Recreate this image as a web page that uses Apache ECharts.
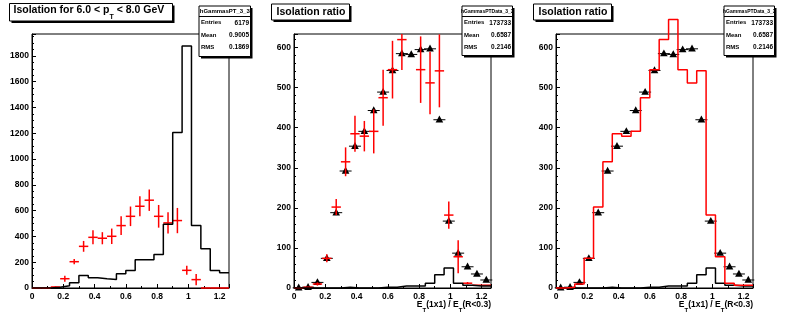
<!DOCTYPE html>
<html><head><meta charset="utf-8">
<script src="https://cdn.jsdelivr.net/npm/echarts@6/dist/echarts.min.js"></script>
<style>html,body{margin:0;padding:0;background:#fff}#c{width:787px;height:323px}</style>
</head><body><div id="c"></div>
<script>
// ---------------- data ----------------
const binCenters = [0.03,0.09,0.15,0.21,0.27,0.33,0.39,0.45,0.51,0.57,0.63,0.69,0.75,0.81,0.87,0.93,0.99,1.05,1.11,1.17,1.23];
const binWidth = 0.06;
const xMax = 1.26;
const xTickLabels = [0,0.2,0.4,0.6,0.8,1,1.2];
const pad1YTickLabels = [0,200,400,600,800,1000,1200,1400,1600,1800];
const ratioYTickLabels = [0,100,200,300,400,500,600];
const pad1YMax = 1970;
const ratioYMax = 634;

// pad 1: black histogram and red points with errors
const pad1Hist   = [0,0,5,18,41,96,80,72,65,111,135,220,220,259,494,1206,1876,484,305,135,119];
const pad1Points = [0,0,8,72,204,323,393,386,401,484,556,634,681,556,505,523,137,65,0,0,0];
const pad1Errors = [0,0,4,23,20,42,54,47,60,72,76,78,83,88,82,98,35,43,0,0,0];

// pads 2 & 3
const ratioMarkers = [0.5,2,14,74,188,292,354,391,443,489,543,585,583,595,597,420,167,87,53,35,20];
const ratioPoints  = [0,2,10,74,202,315,385,379,391,475,545,620,670,545,512,542,182,78,12,7,7];
const ratioErrors  = [0,0,4,10,20,36,45,38,55,70,72,76,80,83,78,91,34,41,3,0,0];
const smallHist    = [0,0,0,0,0,2,0,0,0,2,2,5,5,5,12,33,50,12,7,5,5];

const titles = ['Isolation for 6.0 < p', 'Isolation ratio'];
const statsTitles = ['hGammasPT_3_3', 'hGammasPTData_3_3'];
const statsLabels = ['Entries', 'Mean', 'RMS'];
const stats1 = ['6179', '0.9005', '0.1869'];
const stats2 = ['173733', '0.6587', '0.2146'];

// ---------------- helpers ----------------
const FONT = '"Liberation Sans", Arial, Helvetica, sans-serif';
function stepData(vals) {
  const d = vals.map((v, i) => [binCenters[i] - binWidth / 2, v]);
  d.push([xMax, vals[vals.length - 1]]);
  return d;
}
function crossRender(params, api) {
  const x = api.value(0), y = api.value(1), e = api.value(2);
  const cs = params.coordSys;
  const top = cs.y, bottom = cs.y + cs.height;
  const p = api.coord([x, y]);
  if (p[1] < top - 0.5) return null;
  const l = api.coord([x - binWidth / 2, y]), r = api.coord([x + binWidth / 2, y]);
  const hi = api.coord([x, y + e]), lo = api.coord([x, y - e]);
  const cl = v => Math.max(top, Math.min(bottom, v));
  const st = { stroke: '#ff0000', lineWidth: 1.5 };
  const ch = [{ type: 'line', shape: { x1: l[0], y1: p[1], x2: r[0], y2: p[1] }, style: st }];
  if (e > 0) ch.push({ type: 'line', shape: { x1: p[0], y1: cl(hi[1]), x2: p[0], y2: cl(lo[1]) }, style: st });
  return { type: 'group', children: ch };
}
function triRender(params, api) {
  const p = api.coord([api.value(0), api.value(1)]);
  return { type: 'group', children: [
    { type: 'line', shape: { x1: p[0] - 6, y1: p[1], x2: p[0] + 6, y2: p[1] }, style: { stroke: '#000', lineWidth: 1 } },
    { type: 'polygon', shape: { points: [[p[0], p[1] - 4.2], [p[0] - 3.8, p[1] + 2.7], [p[0] + 3.8, p[1] + 2.7]] }, style: { fill: '#000' } }
  ]};
}
function xAxis(i) {
  return {
    type: 'value', gridIndex: i, min: 0, max: xMax, interval: 0.2,
    axisLine: { show: true, lineStyle: { color: '#000', width: 1 } },
    axisTick: { show: true, inside: true, length: 4, lineStyle: { color: '#000' } },
    minorTick: { show: true, splitNumber: 2, length: 2, lineStyle: { color: '#000' } },
    splitLine: { show: false },
    axisLabel: { color: '#000', fontFamily: FONT, fontWeight: 'bold', fontSize: 8.5, margin: 4,
      formatter: v => xTickLabels.some(t => Math.abs(t - v) < 1e-6) ? String(+v.toFixed(1)) : '' }
  };
}
function yAxis(i, max, interval, minorSplit, labels) {
  return {
    type: 'value', gridIndex: i, min: 0, max: max, interval: interval,
    axisLine: { show: true, lineStyle: { color: '#000', width: 1 } },
    axisTick: { show: true, inside: true, length: 4, lineStyle: { color: '#000' } },
    minorTick: { show: true, splitNumber: minorSplit, length: 2, lineStyle: { color: '#000' } },
    splitLine: { show: false },
    axisLabel: { color: '#000', fontFamily: FONT, fontWeight: 'bold', fontSize: 8.5, margin: 3,
      formatter: v => labels.indexOf(Math.round(v)) >= 0 && Math.abs(v - Math.round(v)) < 1e-6 ? String(Math.round(v)) : '' }
  };
}
function lineSeries(vals, xi, color, clip) {
  return { type: 'line', xAxisIndex: xi, yAxisIndex: xi, step: 'end', data: stepData(vals),
    symbol: 'none', clip: clip, silent: true, animation: false,
    lineStyle: { color: color, width: 1.5 } };
}
function customSeries(data, xi, render) {
  return { type: 'custom', xAxisIndex: xi, yAxisIndex: xi, data: data, renderItem: render,
    encode: { x: 0, y: 1 }, silent: true, animation: false, clip: false, z: 3 };
}
function box(x, y, w, h) {
  return [
    { type: 'rect', z: 100, shape: { x: x + 2, y: y + 2, width: w, height: h }, style: { fill: '#000' } },
    { type: 'rect', z: 101, shape: { x: x, y: y, width: w, height: h }, style: { fill: '#fff', stroke: '#000', lineWidth: 1 } }
  ];
}
function statsBox(x, y, w, h, title, titleSize, values) {
  const g = box(x, y, w, h);
  g.push({ type: 'line', z: 102, shape: { x1: x, y1: y + 10.5, x2: x + w, y2: y + 10.5 }, style: { stroke: '#000', lineWidth: 1 } });
  g.push({ type: 'text', z: 102, style: { text: title, x: x + w / 2, y: y + 5.2, align: 'center', verticalAlign: 'middle',
    font: 'bold ' + titleSize + 'px ' + FONT, fill: '#000' } });
  const rowsY = [y + 16.8, y + 29, y + 41.7];
  statsLabels.forEach((lab, k) => {
    g.push({ type: 'text', z: 102, style: { text: lab, x: x + 2, y: rowsY[k], align: 'left', verticalAlign: 'middle', font: 'bold 6px ' + FONT, fill: '#000' } });
    g.push({ type: 'text', z: 102, style: { text: values[k], x: x + w - 1.5, y: rowsY[k], align: 'right', verticalAlign: 'middle', font: 'bold 6.5px ' + FONT, fill: '#000' } });
  });
  return g;
}
const subRich = {
  n: { fontFamily: FONT, fontWeight: 'bold', fontSize: 10.5, lineHeight: 12, verticalAlign: 'top', color: '#000' },
  s: { fontFamily: FONT, fontWeight: 'bold', fontSize: 7, lineHeight: 7, padding: [9, 0, 0, 0], verticalAlign: 'top', color: '#000' }
};
const axRich = {
  n: { fontFamily: FONT, fontWeight: 'bold', fontSize: 8.5, lineHeight: 10, verticalAlign: 'top', color: '#000' },
  s: { fontFamily: FONT, fontWeight: 'bold', fontSize: 6, lineHeight: 6, padding: [7, 0, 0, 0], verticalAlign: 'top', color: '#000' }
};

const graphics = [];
// pad titles
graphics.push(...box(9.5, 3.5, 163, 17.5));
graphics.push({ type: 'text', z: 102, style: { text: '{n|' + titles[0] + '}{s|T}{n| < 8.0 GeV}', rich: subRich, x: 13.5, y: 4.4, align: 'left', verticalAlign: 'top' } });
[271.5, 533.5].forEach(x => {
  graphics.push(...box(x, 4, 78, 16));
  graphics.push({ type: 'text', z: 102, style: { text: titles[1], x: x + 5, y: 12.5, align: 'left', verticalAlign: 'middle', font: 'bold 10.5px ' + FONT, fill: '#000' } });
});
// stats boxes
graphics.push(...statsBox(199, 6, 51.5, 50.5, statsTitles[0], 6, stats1));
graphics.push(...statsBox(462, 6, 50.5, 49.5, statsTitles[1], 5, stats2));
graphics.push(...statsBox(724, 6, 50.5, 49.5, statsTitles[1], 5, stats2));
// x-axis titles pads 2 & 3
[491, 753].forEach(x => {
  graphics.push({ type: 'text', z: 102, style: { text: '{n|E}{s|T}{n|(1x1) / E}{s|T}{n|(R<0.3)}', rich: axRich, x: x, y: 300, align: 'right', verticalAlign: 'top' } });
});

const tri = binCenters.map((c, i) => [c, ratioMarkers[i]]);
const option = {
  backgroundColor: '#fff',
  animation: false,
  grid: [
    { left: 32, top: 34, width: 197, height: 254, show: true, borderColor: '#000', borderWidth: 1, backgroundColor: 'transparent' },
    { left: 294, top: 34, width: 197, height: 254, show: true, borderColor: '#000', borderWidth: 1, backgroundColor: 'transparent' },
    { left: 556, top: 34, width: 197, height: 254, show: true, borderColor: '#000', borderWidth: 1, backgroundColor: 'transparent' }
  ],
  xAxis: [xAxis(0), xAxis(1), xAxis(2)],
  yAxis: [
    yAxis(0, pad1YMax, 200, 4, pad1YTickLabels),
    yAxis(1, ratioYMax, 100, 5, ratioYTickLabels),
    yAxis(2, ratioYMax, 100, 5, ratioYTickLabels)
  ],
  series: [
    lineSeries(pad1Hist, 0, '#000', true),
    customSeries(binCenters.map((c, i) => [c, pad1Points[i], pad1Errors[i]]), 0, crossRender),

    lineSeries(smallHist, 1, '#000', true),
    customSeries(tri, 1, triRender),
    customSeries(binCenters.map((c, i) => [c, ratioPoints[i], ratioErrors[i]]), 1, crossRender),

    lineSeries(smallHist, 2, '#000', true),
    lineSeries(ratioPoints, 2, '#ff0000', false),
    customSeries(tri, 2, triRender)
  ],
  graphic: { elements: graphics }
};
const chart = echarts.init(document.getElementById('c'), null, { renderer: 'canvas', width: 787, height: 323 });
chart.setOption(option);
</script>
</body></html>
